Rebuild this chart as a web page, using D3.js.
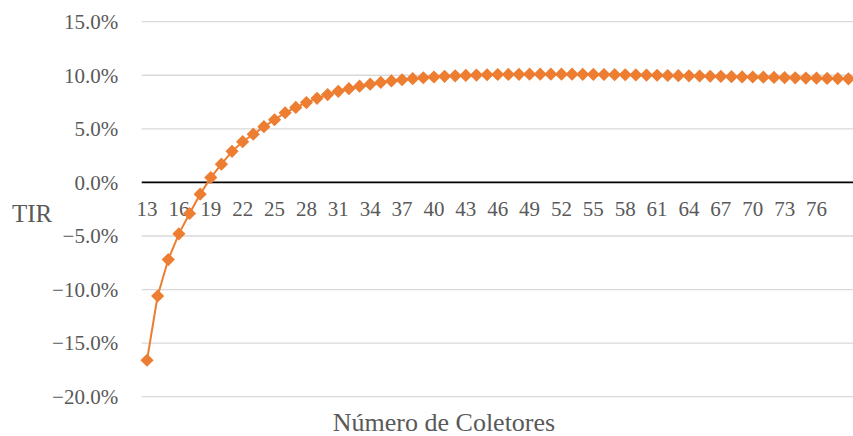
<!DOCTYPE html>
<html>
<head>
<meta charset="utf-8">
<script src="https://cdn.jsdelivr.net/npm/d3@7"></script>
<style>
  html, body { margin: 0; padding: 0; background: #fff; }
  svg { display: block; }
  svg text { font-family: "Liberation Serif", "Times New Roman", serif !important; }
</style>
</head>
<body>
<svg id="chart" width="853" height="436"></svg>
<script>
// ---- data ----
const categories = d3.range(13, 80); // 13..79 collectors
const tirValues = [
  -16.6, -10.6, -7.2, -4.8, -2.9, -1.1, 0.45, 1.7, 2.9, 3.8,
  4.5, 5.2, 5.85, 6.5, 7.0, 7.45, 7.85, 8.2, 8.5, 8.75,
  8.98, 9.17, 9.33, 9.47, 9.58, 9.68, 9.77, 9.84, 9.9, 9.95,
  9.99, 10.02, 10.05, 10.07, 10.08, 10.09, 10.1, 10.1, 10.1, 10.1,
  10.1, 10.09, 10.08, 10.07, 10.06, 10.05, 10.03, 10.02, 10.0, 9.98,
  9.96, 9.95, 9.93, 9.91, 9.89, 9.87, 9.85, 9.84, 9.82, 9.8,
  9.78, 9.76, 9.74, 9.73, 9.71, 9.69, 9.67
];
const xTickLabels = [13, 16, 19, 22, 25, 28, 31, 34, 37, 40, 43, 46, 49, 52, 55, 58, 61, 64, 67, 70, 73, 76];
const yTickValues = [-20, -15, -10, -5, 0, 5, 10, 15];
const xTitle = "Número de Coletores";
const yTitle = "TIR";

// ---- layout ----
const svg = d3.select("#chart");
const pLeft = 141.7, pRight = 853.7, pTop = 21.7, pBottom = 396.7;
const textColor = "#595959";
const font = "Liberation Serif";

const x = d3.scaleBand().domain(categories).range([pLeft, pRight]).padding(0);
const xc = c => x(c) + x.bandwidth() / 2;
const y = d3.scaleLinear().domain([-20, 15]).range([pBottom, pTop]);

const data = categories.map((c, i) => ({ c, v: tirValues[i] }));

// gridlines
svg.append("g")
  .selectAll("line")
  .data(yTickValues.filter(d => d !== 0))
  .join("line")
  .attr("x1", pLeft).attr("x2", 853)
  .attr("y1", d => y(d)).attr("y2", d => y(d))
  .attr("stroke", "#d9d9d9").attr("stroke-width", 1.3);

// y axis labels
const yAxis = svg.append("g")
  .attr("transform", `translate(${pLeft},0)`)
  .call(d3.axisLeft(y).tickValues(yTickValues).tickSize(0).tickPadding(23.5)
    .tickFormat(d => d3.format(".1f")(d) + "%"));
yAxis.attr("font-family", font).attr("font-size", 21);
yAxis.select(".domain").remove();
yAxis.selectAll("text").attr("fill", textColor);

// x axis at zero (black line)
const xAxis = svg.append("g")
  .attr("transform", `translate(0,${y(0)})`)
  .call(d3.axisBottom(x).tickValues(xTickLabels).tickSize(0).tickPadding(19));
xAxis.attr("font-family", font).attr("font-size", 21);
xAxis.select(".domain")
  .attr("stroke", "#000").attr("stroke-width", 1.8)
  .attr("d", `M${pLeft},0H853`);
xAxis.selectAll("text").attr("fill", textColor);

// line
svg.append("path")
  .datum(data)
  .attr("fill", "none")
  .attr("stroke", "#ED7D31")
  .attr("stroke-width", 2)
  .attr("d", d3.line().x(d => xc(d.c)).y(d => y(d.v)));

// diamond markers
const s = 6.6;
svg.append("g")
  .selectAll("path")
  .data(data)
  .join("path")
  .attr("d", d => {
    const cx = xc(d.c), cy = y(d.v);
    return `M${cx},${cy - s}L${cx + s},${cy}L${cx},${cy + s}L${cx - s},${cy}Z`;
  })
  .attr("fill", "#ED7D31");

// titles
svg.append("text")
  .attr("x", 444).attr("y", 431)
  .attr("text-anchor", "middle")
  .attr("fill", textColor)
  .attr("font-size", 26)
  .text(xTitle);

svg.append("text")
  .attr("x", 12).attr("y", 221.5)
  .attr("fill", textColor)
  .attr("font-size", 25)
  .text(yTitle);
</script>
</body>
</html>
